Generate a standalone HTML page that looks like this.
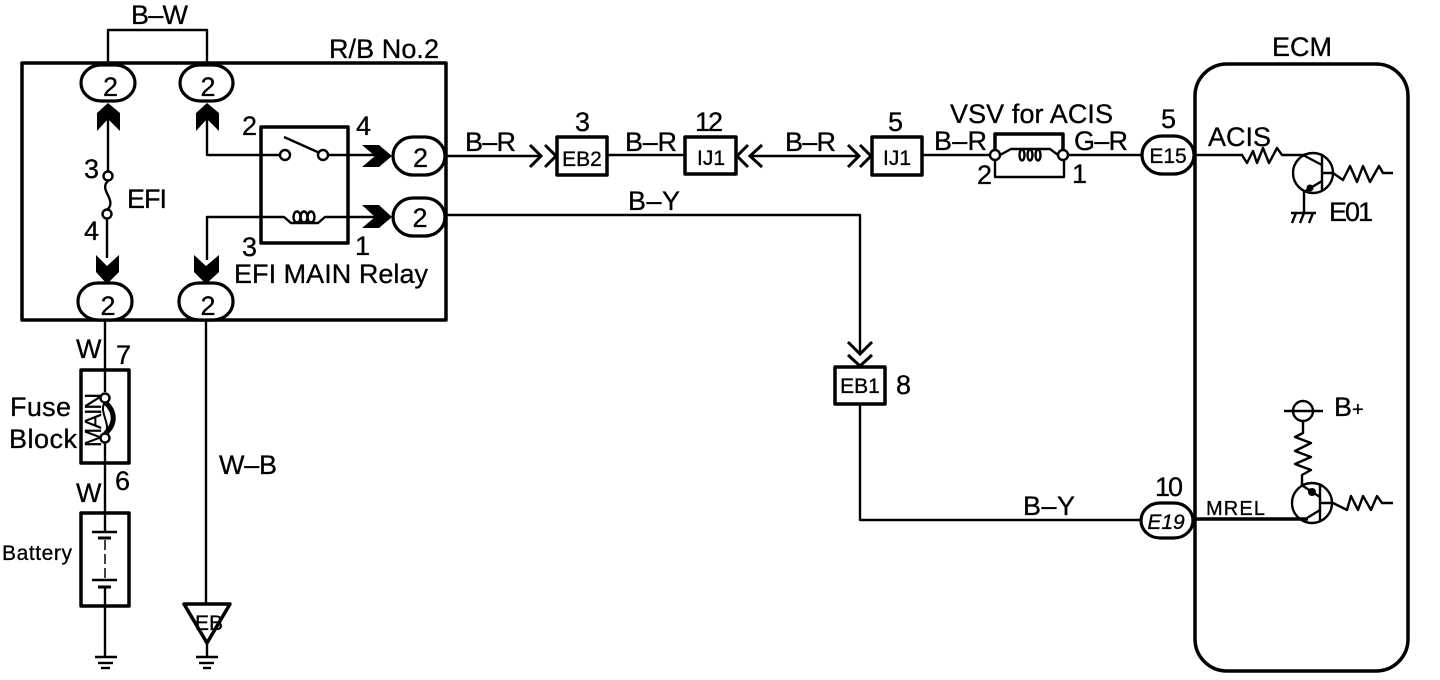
<!DOCTYPE html>
<html>
<head>
<meta charset="utf-8">
<style>
html,body{margin:0;padding:0;background:#fff;width:1440px;height:680px;overflow:hidden}
svg{display:block}
text{font-family:"Liberation Sans",sans-serif;fill:#000;stroke:#000;stroke-width:.3}
.l{fill:none;stroke:#000;stroke-width:2.4;stroke-linejoin:round}
.h{fill:none;stroke:#000;stroke-width:3}
.t{fill:none;stroke:#000;stroke-width:3.5;stroke-linejoin:round}
.w{fill:#fff;stroke:#000;stroke-width:3.2}
.c{fill:#fff;stroke:#000;stroke-width:2.4}
</style>
</head>
<body>
<svg width="1440" height="680" viewBox="0 0 1440 680" xmlns="http://www.w3.org/2000/svg">
<rect width="1440" height="680" fill="#fff"/>

<!-- R/B No.2 -->
<polyline class="l" points="108,64 108,30 207,30 207,64"/>
<rect class="t" x="22" y="63" width="424" height="257"/>
<rect class="t" x="261" y="127" width="87" height="116"/>

<!-- wires in relay block -->
<polyline class="l" points="108,105 108,172"/>
<path class="l" d="M108 181 C98 190,118 200,107 210"/>
<polyline class="l" points="107,219 107,258"/>
<polyline class="l" points="207,110 207,155 281,155"/>
<line class="l" x1="284" y1="137" x2="322" y2="154"/>
<polyline class="l" points="328,155 375,155"/>
<circle class="c" cx="108" cy="176" r="4.5"/>
<circle class="c" cx="107" cy="214" r="4.5"/>
<circle class="c" cx="285" cy="155" r="5"/>
<circle class="c" cx="323" cy="155" r="5"/>
<polyline class="l" points="207,260 207,217 284,217 291,223 318,223 325,217 375,217"/>
<ellipse class="l" cx="297" cy="217" rx="3.5" ry="5.5"/>
<ellipse class="l" cx="304" cy="217" rx="3.5" ry="5.5"/>
<ellipse class="l" cx="311" cy="217" rx="3.5" ry="5.5"/>

<!-- black terminals -->
<polygon points="108,103 120,113 120,131 108,119 97,131 97,113"/>
<polygon points="207,103 219,113 219,131 207,119 196,131 196,113"/>
<polygon points="107,284 119,272 119,255 107,266 96,255 96,272"/>
<polygon points="206,284 219,272 219,255 206,266 194,255 194,272"/>
<polygon points="392,156 379,145 362,145 375,156 362,167 379,167"/>
<polygon points="392,217 379,205 362,205 375,217 362,228 379,228"/>

<!-- ovals -->
<rect class="w" x="81" y="65" width="54" height="36" rx="20" ry="18"/>
<rect class="w" x="180" y="65" width="53" height="36" rx="20" ry="18"/>
<rect class="w" x="393" y="137" width="52" height="38" rx="20" ry="19"/>
<rect class="w" x="393" y="198" width="52" height="38" rx="20" ry="19"/>
<rect class="w" x="78" y="283" width="54" height="37" rx="20" ry="18"/>
<rect class="w" x="179" y="283" width="54" height="37" rx="20" ry="18"/>
<g font-size="27" text-anchor="middle">
<text x="110.500" y="96">2</text>
<text x="208" y="96">2</text>
<text x="420.500" y="167">2</text>
<text x="420" y="227">2</text>
<text x="108" y="315">2</text>
<text x="208" y="315">2</text>
</g>

<!-- labels relay block -->
<g font-size="27">
<text x="131" y="24" textLength="57">B–W</text>
<text x="329" y="58" textLength="110">R/B No.2</text>
<text x="242" y="135">2</text>
<text x="356" y="135">4</text>
<text x="84" y="178">3</text>
<text x="127" y="208" textLength="40">EFI</text>
<text x="84" y="240">4</text>
<text x="242" y="256">3</text>
<text x="355" y="255">1</text>
<text x="234" y="283" textLength="194">EFI MAIN Relay</text>
</g>

<!-- left vertical chain -->
<line class="l" x1="105" y1="320" x2="105" y2="392"/>
<rect class="t" x="81" y="370" width="48" height="93"/>
<text font-size="23" transform="translate(101,447) rotate(-90)" textLength="54">MAIN</text>
<path d="M105 402 C116 412,116 424,105 434" fill="none" stroke="#000" stroke-width="5"/>
<path d="M105 402 C98 412,112 424,105 434" fill="none" stroke="#000" stroke-width="2"/>
<circle class="c" cx="105" cy="398" r="4.5"/>
<circle class="c" cx="105" cy="438" r="4.5"/>
<line class="l" x1="105" y1="443" x2="105" y2="532"/>
<rect class="t" x="81" y="513" width="48" height="93"/>
<line class="l" x1="92" y1="532" x2="117" y2="532"/>
<line x1="98" y1="538" x2="111" y2="538" stroke="#000" stroke-width="3"/>
<line x1="105" y1="540" x2="105" y2="580" stroke="#000" stroke-width="1.5" stroke-dasharray="10 4"/>
<line class="l" x1="92" y1="580" x2="117" y2="580"/>
<line x1="98" y1="587" x2="111" y2="587" stroke="#000" stroke-width="3"/>
<line class="l" x1="105" y1="587" x2="105" y2="657"/>
<line class="l" x1="95" y1="657" x2="117" y2="657"/>
<line class="l" x1="98" y1="663" x2="113" y2="663"/>
<line class="l" x1="101" y1="668" x2="110" y2="668"/>
<g font-size="27">
<text x="76" y="358" textLength="25">W</text>
<text x="116" y="364">7</text>
<text x="10" y="416" textLength="61">Fuse</text>
<text x="9" y="448" textLength="68">Block</text>
<text x="76" y="502" textLength="25">W</text>
<text x="115" y="490">6</text>
<text x="219" y="474" textLength="58">W–B</text>
</g>
<text x="2" y="560" font-size="21" textLength="70">Battery</text>

<!-- W-B / EB -->
<line class="l" x1="206" y1="320" x2="206" y2="604"/>
<polygon class="t" points="184,604 230,604 207,643"/>
<text x="195" y="630" font-size="21" textLength="28">EB</text>
<line class="l" x1="207" y1="644" x2="207" y2="657"/>
<line class="l" x1="196" y1="657" x2="218" y2="657"/>
<line class="l" x1="199" y1="663" x2="214" y2="663"/>
<line class="l" x1="203" y1="668" x2="211" y2="668"/>

<!-- top wire B-R -->
<line class="l" x1="445" y1="156" x2="541" y2="156"/>
<polyline class="h" points="530,145 541,156 530,167"/>
<polyline class="h" points="545,145 556,156 545,167"/>
<rect class="t" x="557" y="137" width="50" height="38"/>
<line class="l" x1="607" y1="155" x2="685" y2="155"/>
<rect class="t" x="685" y="137" width="51" height="37"/>
<polyline class="h" points="748,145 737,156 748,167"/>
<polyline class="h" points="762,145 750,156 762,167"/>
<line class="l" x1="751" y1="156" x2="859" y2="156"/>
<polyline class="h" points="848,145 859,156 848,167"/>
<polyline class="h" points="860,145 871,156 860,167"/>
<rect class="t" x="872" y="137" width="50" height="38"/>
<line class="l" x1="922" y1="155" x2="990" y2="155"/>

<!-- VSV -->
<polyline class="l" points="995,150 995,177 1064,177 1064,150"/>
<polyline class="t" points="995,150 995,134 1063,134 1063,150"/>
<polyline class="l" points="1000,155 1011,149 1050,149 1058,155"/>
<ellipse class="l" cx="1022" cy="155" rx="2.5" ry="5.5"/>
<ellipse class="l" cx="1030" cy="155" rx="2.5" ry="5.5"/>
<ellipse class="l" cx="1038" cy="155" rx="2.5" ry="5.5"/>
<circle class="c" cx="995" cy="155" r="5"/>
<circle class="c" cx="1063" cy="155" r="5"/>
<line class="l" x1="1068" y1="155" x2="1143" y2="155"/>
<rect class="w" x="1142" y="136" width="52" height="38" rx="20" ry="19"/>
<line class="l" x1="1194" y1="155" x2="1243" y2="155"/>

<!-- B-Y wire -->
<polyline class="l" points="445,215 860,215 860,354"/>
<polyline class="h" points="848,342 860,354 872,342"/>
<polyline class="h" points="848,355 860,366 872,355"/>
<rect class="t" x="835" y="367" width="50" height="37"/>
<polyline class="l" points="860,404 860,520 1141,520"/>
<rect class="w" x="1141" y="503" width="52" height="35" rx="19" ry="17.500"/>

<g font-size="27">
<text x="465" y="151" textLength="51">B–R</text>
<text x="625" y="151" textLength="52">B–R</text>
<text x="785" y="151" textLength="51">B–R</text>
<text x="934" y="150" textLength="53">B–R</text>
<text x="1074" y="150" textLength="54">G–R</text>
<text x="950" y="123" textLength="163">VSV for ACIS</text>
<text x="575" y="131">3</text>
<text x="695" y="131" textLength="28">12</text>
<text x="888" y="131">5</text>
<text x="977" y="184">2</text>
<text x="1072" y="183">1</text>
<text x="1161" y="128">5</text>
<text x="628" y="210" textLength="52">B–Y</text>
<text x="1023" y="515" textLength="52">B–Y</text>
<text x="1155" y="496" textLength="28">10</text>
<text x="896" y="394">8</text>
<text x="1272" y="56" textLength="60">ECM</text>
<text x="1208" y="146" textLength="63">ACIS</text>
</g>
<g font-size="21" text-anchor="middle">
<text x="582" y="166">EB2</text>
<text x="711" y="165">IJ1</text>
<text x="897" y="165">IJ1</text>
<text x="1168" y="163">E15</text>
<text x="860" y="393">EB1</text>
<text x="1166" y="529" font-style="italic">E19</text>
</g>

<!-- ECM -->
<rect class="t" x="1195" y="64" width="213" height="607" rx="32"/>

<!-- upper transistor -->
<polyline class="l" points="1242,155 1247,163 1253,151 1257,163 1263,148 1269,163 1277,148 1282,155 1304,155"/>
<circle class="l" cx="1313" cy="173" r="20" stroke-width="2.5"/>
<line class="l" x1="1322" y1="154" x2="1322" y2="191"/>
<line class="l" x1="1303" y1="155" x2="1322" y2="165"/>
<line class="l" x1="1322" y1="181" x2="1304" y2="192"/>
<circle cx="1310" cy="188" r="3.5"/>
<polyline class="l" points="1322,173 1333,173 1343,180 1350,166 1357,182 1363,166 1370,182 1379,166 1383,173 1393,173"/>
<line class="l" x1="1304" y1="190" x2="1304" y2="213"/>
<line class="l" x1="1291" y1="213" x2="1316" y2="213"/>
<line class="l" x1="1296" y1="213" x2="1292" y2="223"/>
<line class="l" x1="1304" y1="213" x2="1300" y2="223"/>
<line class="l" x1="1313" y1="213" x2="1309" y2="223"/>
<text x="1329" y="221" font-size="27" textLength="44">E01</text>

<!-- lower transistor -->
<circle class="l" cx="1303" cy="411" r="10"/>
<line class="l" x1="1284" y1="411" x2="1323" y2="411"/>
<text x="1334" y="416" font-size="27">B</text>
<text x="1352" y="416" font-size="20">+</text>
<polyline class="l" points="1303,421 1303,433 1295,437 1311,443 1295,451 1311,457 1295,464 1311,470 1302,475 1302,485"/>
<circle class="l" cx="1312" cy="503" r="20" stroke-width="2.5"/>
<line class="l" x1="1320" y1="484" x2="1320" y2="522" stroke-width="2.5"/>
<line x1="1303" y1="486" x2="1320" y2="497" stroke="#000" stroke-width="2.5"/>
<circle cx="1312" cy="492" r="4"/>
<line class="l" x1="1307" y1="518" x2="1320" y2="510"/>
<polyline class="l" points="1320,503 1333,503 1347,510 1351,496 1358,510 1363,496 1371,510 1377,496 1382,503 1393,503"/>
<line class="t" x1="1193" y1="519" x2="1308" y2="519"/>
<text x="1206" y="515" font-size="20" textLength="59">MREL</text>
</svg>
</body>
</html>
